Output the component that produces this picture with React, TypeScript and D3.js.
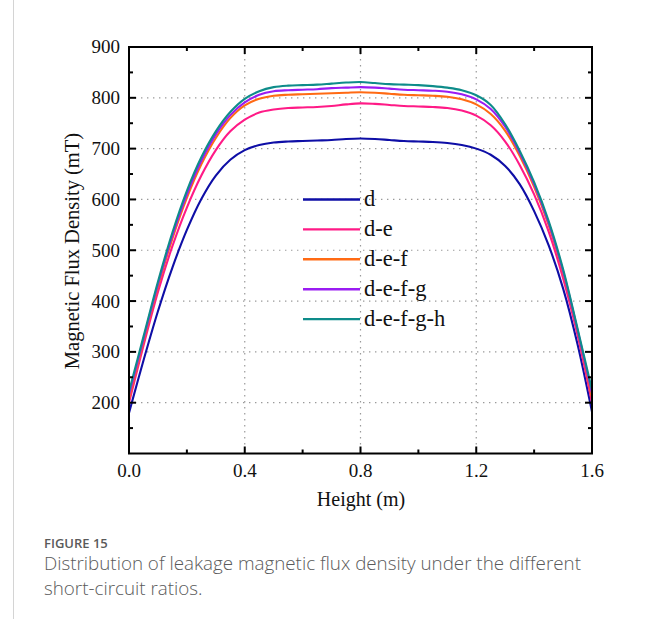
import React from "react";
import * as d3 from "d3";

// heights along the winding (m)
const heights = [
  0, 0.05, 0.1, 0.15, 0.2, 0.25, 0.3, 0.35, 0.4, 0.45, 0.5, 0.55, 0.6, 0.65, 0.7, 0.75, 0.8,
  0.85, 0.9, 0.95, 1.0, 1.05, 1.1, 1.15, 1.2, 1.25, 1.3, 1.35, 1.4, 1.45, 1.5, 1.55, 1.6,
];

// leakage flux density (mT)
const seriesD = [
  180, 283, 380, 466, 540, 601, 647, 678, 697, 707, 712, 714, 715, 716, 717, 719, 720,
  719, 717, 715, 714, 713, 711, 707, 700, 688, 666, 630, 577, 510, 425, 315, 182,
];
const seriesDE = [
  200, 312, 418, 508, 584, 647, 697, 734, 757, 771, 777, 780, 781, 782, 784, 787, 789,
  788, 786, 784, 783, 782, 780, 775, 765, 746, 714, 668, 610, 537, 445, 333, 200,
];
const seriesDEF = [
  208, 320, 428, 523, 603, 669, 721, 760, 785, 798, 804, 806, 807, 808, 809, 810, 811,
  810, 808, 806, 805, 804, 802, 797, 787, 768, 735, 686, 625, 550, 456, 341, 210,
];
const seriesDEFG = [
  215, 325, 433, 529, 610, 676, 728, 766, 791, 806, 813, 815, 816, 817, 819, 820, 821,
  820, 818, 816, 815, 814, 812, 807, 797, 778, 743, 692, 630, 554, 459, 343, 218,
];
const seriesDEFGH = [
  222, 330, 438, 535, 617, 683, 734, 772, 798, 813, 821, 824, 825, 826, 828, 830, 831,
  829, 827, 826, 825, 823, 820, 815, 805, 786, 748, 696, 634, 558, 463, 346, 225,
];

const seriesNames = ["d", "d-e", "d-e-f", "d-e-f-g", "d-e-f-g-h"];
const seriesColors = ["#0e0ea6", "#ff1a86", "#ff6a14", "#9a1cf2", "#0e8c8a"];
const allSeries = [seriesD, seriesDE, seriesDEF, seriesDEFG, seriesDEFGH];

const xTicks = [0, 0.4, 0.8, 1.2, 1.6];
const xMinor = [0.2, 0.6, 1.0, 1.4];
const yTicks = [200, 300, 400, 500, 600, 700, 800, 900];
const yMinor = [150, 250, 350, 450, 550, 650, 750, 850];
const xGrid = [0.4, 0.8, 1.2];
const yGrid = [200, 300, 400, 500, 600, 700, 800];

const W = 654;
const H = 619;
const left = 129;
const right = 592;
const top = 47;
const bottom = 453.5;

const serif = "'Liberation Serif', 'Times New Roman', serif";
const sans = "'Open Sans', sans-serif";

export default function App() {
  const x = d3.scaleLinear().domain([0, 1.6]).range([left, right]);
  const y = d3.scaleLinear().domain([100, 900]).range([bottom, top]);

  const line = d3
    .line<number>()
    .x((_, i) => x(heights[i]))
    .y((d) => y(d))
    .curve(d3.curveCatmullRom.alpha(0.5));

  const legendX = 303;
  const legendY = 199.5;
  const legendStep = 29.9;

  return (
    <svg
      width={W}
      height={H}
      style={{ position: "absolute", left: 0, top: 0, background: "#fff" }}
    >
      <line x1={13.5} x2={13.5} y1={0} y2={H} stroke="#d4d4d4" strokeWidth={1} />

      {/* grid */}
      <g stroke="#9a9a9a" strokeWidth={1.2} strokeDasharray="1.4 4.6">
        {yGrid.map((v) => (
          <line key={"gy" + v} x1={left} x2={right} y1={y(v)} y2={y(v)} />
        ))}
        {xGrid.map((v) => (
          <line key={"gx" + v} x1={x(v)} x2={x(v)} y1={top} y2={bottom} />
        ))}
      </g>

      {/* curves */}
      <g fill="none" strokeWidth={2.1} strokeLinejoin="round">
        {allSeries.map((s, i) => (
          <path key={seriesNames[i]} d={line(s) || ""} stroke={seriesColors[i]} />
        ))}
      </g>

      {/* legend */}
      <g>
        {seriesNames.map((n, i) => (
          <g key={n} transform={`translate(${legendX},${legendY + i * legendStep})`}>
            <line x1={0} x2={57} y1={0} y2={0} stroke={seriesColors[i]} strokeWidth={2.4} />
            <text x={61} y={6.5} fontFamily={serif} fontSize={22.5} fill="#111">
              {n}
            </text>
          </g>
        ))}
      </g>

      {/* frame and ticks */}
      <g stroke="#000" strokeWidth={2}>
        <rect x={left} y={top} width={right - left} height={bottom - top} fill="none" />
        {yTicks.slice(0, -1).map((v) => (
          <g key={"ty" + v}>
            <line x1={left} x2={left + 7} y1={y(v)} y2={y(v)} />
            <line x1={right} x2={right - 7} y1={y(v)} y2={y(v)} />
          </g>
        ))}
        {yMinor.map((v) => (
          <g key={"my" + v}>
            <line x1={left} x2={left + 4} y1={y(v)} y2={y(v)} />
            <line x1={right} x2={right - 4} y1={y(v)} y2={y(v)} />
          </g>
        ))}
        {xTicks.slice(1, -1).map((v) => (
          <g key={"tx" + v}>
            <line x1={x(v)} x2={x(v)} y1={bottom} y2={bottom - 7} />
            <line x1={x(v)} x2={x(v)} y1={top} y2={top + 7} />
          </g>
        ))}
        {xMinor.map((v) => (
          <g key={"mx" + v}>
            <line x1={x(v)} x2={x(v)} y1={bottom} y2={bottom - 4} />
            <line x1={x(v)} x2={x(v)} y1={top} y2={top + 4} />
          </g>
        ))}
      </g>

      {/* tick labels */}
      <g fontFamily={serif} fontSize={19} fill="#111">
        {yTicks.map((v) => (
          <text key={"ly" + v} x={left - 9} y={y(v)} dy="0.34em" textAnchor="end">
            {v}
          </text>
        ))}
        {xTicks.map((v) => (
          <text key={"lx" + v} x={x(v)} y={477} textAnchor="middle">
            {v.toFixed(1)}
          </text>
        ))}
      </g>

      {/* axis titles */}
      <text x={361} y={506} textAnchor="middle" fontFamily={serif} fontSize={20} fill="#111">
        Height (m)
      </text>
      <text
        transform={`translate(79,251) rotate(-90)`}
        textAnchor="middle"
        fontFamily={serif}
        fontSize={20.5}
        fill="#111"
      >
        Magnetic Flux Density (mT)
      </text>

      {/* caption */}
      <text x={44} y={547.5} fontFamily={sans} fontSize={13} fontWeight={600} fill="#5a5a5a">
        FIGURE 15
      </text>
      <text x={44} y={570} fontFamily={sans} fontSize={18.8} fontWeight={300} fill="#5a5a5a">
        Distribution of leakage magnetic flux density under the different
      </text>
      <text x={44} y={595} fontFamily={sans} fontSize={18.8} fontWeight={300} fill="#5a5a5a">
        short-circuit ratios.
      </text>
    </svg>
  );
}
